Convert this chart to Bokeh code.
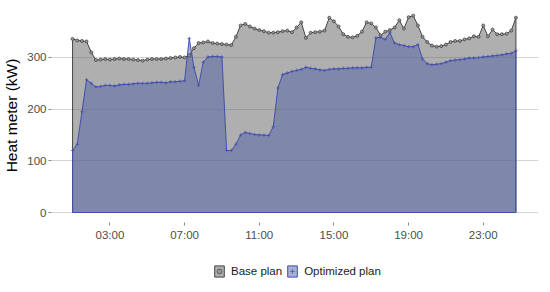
from bokeh.plotting import figure
from bokeh.layouts import column
from bokeh.models import Range1d, FixedTicker, Legend, LegendItem, ColumnDataSource
from bokeh.embed import file_html
from bokeh.resources import INLINE

# 15-minute steps from 01:00 to 24:45
hours = [1 + 0.25 * i for i in range(96)]

base_plan = [336, 333, 332, 331, 310, 295, 296, 297, 296, 297,
             298, 297, 297, 296, 295, 294, 296, 297, 297, 297,
             298, 299, 300, 301, 300, 304, 318, 328, 329, 331,
             328, 327, 326, 325, 324, 340, 362, 365, 360, 356,
             353, 351, 348, 348, 349, 351, 352, 349, 358, 368,
             338, 348, 349, 350, 352, 377, 370, 360, 345, 340,
             339, 342, 350, 368, 366, 358, 343, 350, 353, 358,
             372, 356, 378, 381, 362, 340, 330, 323, 321, 322,
             325, 330, 332, 332, 335, 337, 341, 340, 362, 341,
             354, 345, 345, 346, 352, 377]

optimized_plan = [120, 132, 195, 257, 250, 243, 244, 246, 246, 245,
                  247, 248, 248, 249, 250, 250, 250, 251, 252, 252,
                  251, 253, 253, 254, 255, 337, 281, 246, 291, 301,
                  302, 302, 301, 120, 120, 132, 150, 155, 153, 151,
                  150, 150, 149, 166, 241, 267, 270, 273, 275, 277,
                  281, 279, 278, 276, 275, 277, 278, 278, 279, 279,
                  280, 280, 280, 281, 281, 338, 339, 335, 348, 328,
                  325, 323, 321, 321, 325, 297, 288, 286, 287, 288,
                  291, 294, 295, 296, 297, 299, 299, 300, 301, 302,
                  303, 304, 305, 307, 308, 313]

series_names = ["Base plan", "Optimized plan"]
tick_hours = [3, 7, 11, 15, 19, 23]
tick_labels = ["03:00", "07:00", "11:00", "15:00", "19:00", "23:00"]
y_ticks = [0, 100, 200, 300]

FONT = "Liberation Sans"
BASE_FILL, BASE_LINE = "#606060", "#454545"
OPT_FILL, OPT_LINE = "#5060a6", "#4050ad"

p = figure(frame_width=487, frame_height=214, output_backend="svg", toolbar_location=None,
           x_range=Range1d(-0.13, 25.96), y_range=Range1d(-19.35, 394.8),
           min_border_left=43, min_border_right=4, min_border_top=8, min_border_bottom=28)
p.outline_line_color = None
p.background_fill_color = "white"

# grid
p.xgrid.grid_line_color = None
p.ygrid.grid_line_color = "#d4d4d4"
p.ygrid.grid_line_width = 1
p.ygrid.ticker = FixedTicker(ticks=y_ticks)

def area_polygon(xs, ys):
    return [xs[0]] + list(xs) + [xs[-1]], [0] + list(ys) + [0]

bx, by = area_polygon(hours, base_plan)
ox, oy = area_polygon(hours, optimized_plan)

p.patch(bx, by, fill_color=BASE_FILL, fill_alpha=0.5, line_color=BASE_LINE, line_width=1)
p.patch(ox, oy, fill_color=OPT_FILL, fill_alpha=0.5, line_color=OPT_LINE, line_width=1)

src = ColumnDataSource(data=dict(h=hours, base=base_plan, opt=optimized_plan))
p.scatter("h", "base", source=src, marker="circle", size=3,
          fill_color="#9a9a9a", line_color="#3a3a3a", line_width=0.7)
p.scatter("h", "opt", source=src, marker="cross", size=3.5,
          line_color=OPT_LINE, line_width=0.7)

# axes
for ax in (p.xaxis[0], p.yaxis[0]):
    ax.axis_line_color = None
    ax.major_tick_line_color = "#8a8a8a"
    ax.major_tick_out = 3
    ax.major_tick_in = 0
    ax.minor_tick_line_color = None
    ax.major_label_text_font = FONT
    ax.major_label_text_font_size = "11.5px"
    ax.major_label_text_color = "#4d4d4d"

p.xaxis.ticker = FixedTicker(ticks=tick_hours)
p.xaxis.major_label_overrides = {h: lab for h, lab in zip(tick_hours, tick_labels)}
p.xaxis.major_label_standoff = 3

p.yaxis.ticker = FixedTicker(ticks=y_ticks)
p.yaxis.major_label_standoff = 2
p.yaxis.axis_label = "Heat meter (kW)"
p.yaxis.axis_label_text_font = FONT
p.yaxis.axis_label_text_font_size = "15.5px"
p.yaxis.axis_label_text_font_style = "normal"
p.yaxis.axis_label_text_color = "black"
p.yaxis.axis_label_standoff = 4

# legend in a separate strip below the chart (key glyphs only; their data sit off-range)
lf = figure(frame_width=534, frame_height=34, output_backend="svg", toolbar_location=None,
            x_range=Range1d(0, 1), y_range=Range1d(0, 1),
            min_border_left=0, min_border_right=0, min_border_top=0, min_border_bottom=0)
lf.axis.visible = False
lf.grid.grid_line_color = None
lf.outline_line_color = None
key = ColumnDataSource(data=dict(x=[5, 6, 6], y=[5, 5, 6]))
lb_patch = lf.patch("x", "y", source=key, fill_color=BASE_FILL, fill_alpha=0.5,
                    line_color=BASE_LINE, line_width=1)
lb_pts = lf.scatter("x", "y", source=key, marker="circle", size=3,
                    fill_color="#9a9a9a", line_color="#3a3a3a", line_width=0.7)
lo_patch = lf.patch("x", "y", source=key, fill_color=OPT_FILL, fill_alpha=0.5,
                    line_color=OPT_LINE, line_width=1)
lo_pts = lf.scatter("x", "y", source=key, marker="cross", size=3.5,
                    line_color=OPT_LINE, line_width=0.7)

legend = Legend(items=[
    LegendItem(label=series_names[0], renderers=[lb_patch, lb_pts]),
    LegendItem(label=series_names[1], renderers=[lo_patch, lo_pts]),
], orientation="horizontal", location=(213, 6))
legend.label_text_font = FONT
legend.label_text_font_size = "11.5px"
legend.label_text_color = "#1a1a1a"
legend.glyph_width = 12
legend.glyph_height = 14
legend.spacing = 4
legend.label_standoff = 6
legend.padding = 0
legend.margin = 0
legend.border_line_color = None
legend.background_fill_alpha = 0
lf.add_layout(legend, "center")

layout = column(p, lf, spacing=0)
open("out.html", "w").write(file_html(layout, INLINE))
